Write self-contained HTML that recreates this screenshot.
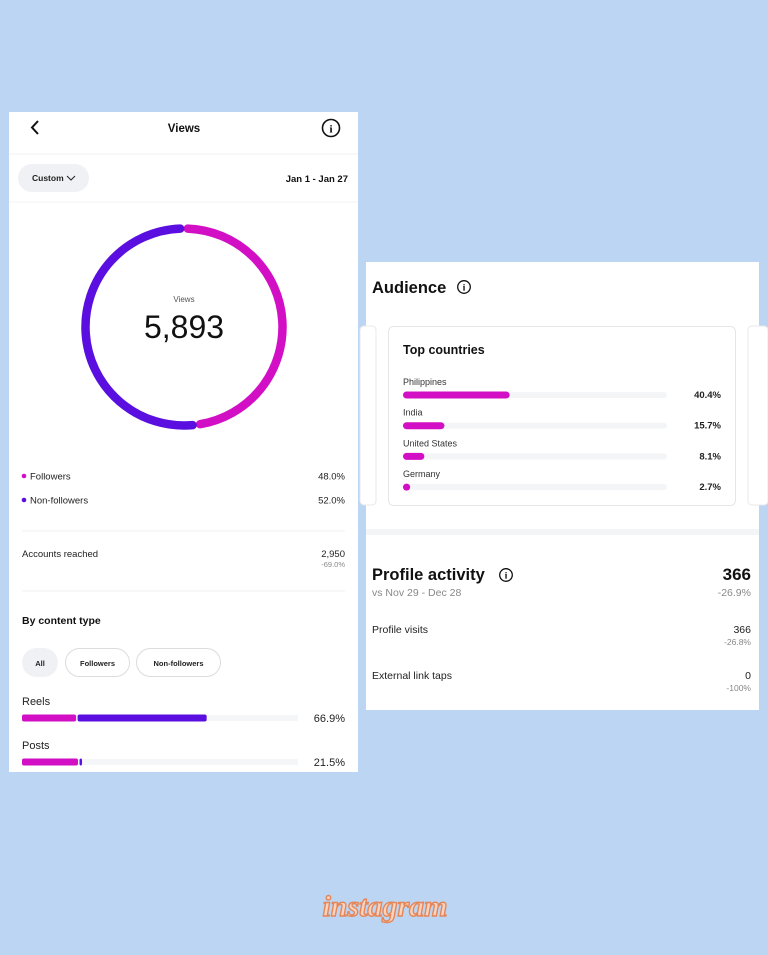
<!DOCTYPE html>
<html><head><meta charset="utf-8"><style>
html,body{margin:0;padding:0;background:#bcd5f2;}
svg{display:block;font-family:"Liberation Sans",Arial,sans-serif;}
</style></head><body>
<svg id="s" width="768" height="955" viewBox="0 0 768 955">
<rect width="768" height="955" fill="#bcd5f2"/>
<g>
<rect x="9" y="112" width="349" height="660" fill="#fff"/>
<path d="M38 121 L32 127.5 L38 134" stroke="#111" stroke-width="2" fill="none"/>
<text x="184" y="132" text-anchor="middle" font-size="11.5" font-weight="bold" fill="#111">Views</text>
<g><circle cx="331" cy="128" r="8.5" stroke="#111" stroke-width="1.6" fill="none"/><text x="331" y="132.5" text-anchor="middle" font-size="11" font-weight="bold" font-family="Liberation Serif,serif">i</text></g>
<line x1="9" y1="154" x2="358" y2="154" stroke="#f0f0f0"/>
<g><rect x="18" y="164" width="71" height="28" rx="14" fill="#eff1f4"/><text x="32" y="181" font-size="8.5" font-weight="bold" fill="#222">Custom</text><path d="M67 176 L71 180 L75 176" stroke="#222" fill="none"/></g>
<text x="348" y="182" text-anchor="end" font-size="9.5" font-weight="bold" fill="#111">Jan 1 - Jan 27</text>
<line x1="9" y1="202" x2="358" y2="202" stroke="#f3f3f3"/>
<g id="donut"></g>
<text x="184" y="302" text-anchor="middle" font-size="8" fill="#555">Views</text>
<text x="184" y="338" text-anchor="middle" font-size="32" fill="#111">5,893</text>
<circle cx="24" cy="476" r="2.3" fill="#d20fc4"/><text x="30" y="479.5" font-size="9.5" fill="#222">Followers</text>
<text x="345" y="479.5" text-anchor="end" font-size="9.5" fill="#222">48.0%</text>
<circle cx="24" cy="500" r="2.3" fill="#5a0fe0"/><text x="30" y="503.5" font-size="9.5" fill="#222">Non-followers</text>
<text x="345" y="503.5" text-anchor="end" font-size="9.5" fill="#222">52.0%</text>
<line x1="22" y1="531" x2="345" y2="531" stroke="#f0f0f0"/>
<text x="22" y="557" font-size="9.5" fill="#222">Accounts reached</text>
<text x="345" y="557" text-anchor="end" font-size="9.5" fill="#222">2,950</text>
<text x="345" y="567" text-anchor="end" font-size="7.5" fill="#888">-69.0%</text>
<line x1="22" y1="591" x2="345" y2="591" stroke="#f0f0f0"/>
<text x="22" y="624" font-size="10.5" font-weight="bold" fill="#111">By content type</text>
<g><rect x="22" y="648" width="36" height="29" rx="14.5" fill="#eff1f4"/><text x="40" y="666" text-anchor="middle" font-size="7.5" font-weight="bold" fill="#222">All</text></g>
<g><rect x="65.5" y="648.5" width="64" height="28" rx="14" fill="#fff" stroke="#dcdcdc"/><text x="97.5" y="666" text-anchor="middle" font-size="7.5" font-weight="bold" fill="#222">Followers</text></g>
<g><rect x="136.5" y="648.5" width="84" height="28" rx="14" fill="#fff" stroke="#dcdcdc"/><text x="178.5" y="666" text-anchor="middle" font-size="7.5" font-weight="bold" fill="#222">Non-followers</text></g>
<g id="content"></g>
</g>
<g>
<rect x="366" y="262" width="393" height="448" fill="#fff"/>
<text x="372" y="293" font-size="16.5" font-weight="bold" fill="#111">Audience</text>
<g><circle cx="464" cy="287" r="6.3" stroke="#111" stroke-width="1.3" fill="none"/><text x="464" y="290.5" text-anchor="middle" font-size="9" font-weight="bold" font-family="Liberation Serif,serif">i</text></g>
<rect x="360" y="326" width="16" height="179" rx="4" fill="#fff" stroke="#e8e8e8"/>
<rect x="748" y="326" width="20" height="179" rx="4" fill="#fff" stroke="#e8e8e8"/>
<rect x="388.5" y="326.5" width="347" height="179" rx="5" fill="#fff" stroke="#e6e6e6"/>
<text x="403" y="354" font-size="12.5" font-weight="bold" fill="#111">Top countries</text>
<g id="countries"></g>
<rect x="366" y="529" width="393" height="6" fill="#f3f5f7"/>
<text x="372" y="580" font-size="16.5" font-weight="bold" fill="#111">Profile activity</text>
<g><circle cx="506" cy="575" r="6.3" stroke="#111" stroke-width="1.3" fill="none"/><text x="506" y="578.5" text-anchor="middle" font-size="9" font-weight="bold" font-family="Liberation Serif,serif">i</text></g>
<text x="372" y="596" font-size="10.5" fill="#888">vs Nov 29 - Dec 28</text>
<text x="751" y="580" text-anchor="end" font-size="17" font-weight="bold" fill="#111">366</text>
<text x="751" y="596" text-anchor="end" font-size="10.5" fill="#888">-26.9%</text>
<text x="372" y="633" font-size="10.5" fill="#222">Profile visits</text>
<text x="751" y="633" text-anchor="end" font-size="10.5" fill="#222">366</text>
<text x="751" y="645" text-anchor="end" font-size="8.5" fill="#888">-26.8%</text>
<text x="372" y="679" font-size="10.5" fill="#222">External link taps</text>
<text x="751" y="679" text-anchor="end" font-size="10.5" fill="#222">0</text>
<text x="751" y="691" text-anchor="end" font-size="8.5" fill="#888">-100%</text>
</g>
<text x="385" y="916" text-anchor="middle" font-size="30" font-style="italic" font-weight="bold" font-family="Liberation Serif,serif" fill="#fdd3bd" stroke="#e3875a" stroke-width="1.4">instagram</text>
</svg>
<script>
const donutLabels = ["Followers", "Non-followers"];
const donutValues = [48.0, 52.0];
const donutColors = ["#d20fc4", "#5a0fe0"];
const countryNames = ["Philippines", "India", "United States", "Germany"];
const countryValues = [40.4, 15.7, 8.1, 2.7];
const contentTypes = ["Reels", "Posts"];
const contentFollowers = [19.6, 20.3];
const contentNonFollowers = [47.3, 1.2];
const contentTotals = ["66.9%", "21.5%"];
const NS = "http://www.w3.org/2000/svg";
function mk(tag, attrs, parent){const e=document.createElementNS(NS,tag);for(const k in attrs)e.setAttribute(k,attrs[k]);parent.appendChild(e);return e;}
const cx=184, cy=327, r=98.5;
const sum=donutValues.reduce((a,b)=>a+b,0);
function pt(a){const t=(a-90)*Math.PI/180;return [cx+r*Math.cos(t), cy+r*Math.sin(t)];}
let acc=0; const dg=document.getElementById("donut");
donutValues.forEach((v,i)=>{
  const a0=acc/sum*360+2.2, a1=(acc+v)/sum*360-2.2; acc+=v;
  const p0=pt(a0), p1=pt(a1), large=(a1-a0)>180?1:0;
  const p=mk("path",{d:`M${p0[0]} ${p0[1]} A${r} ${r} 0 ${large} 1 ${p1[0]} ${p1[1]}`,stroke:donutColors[i],"stroke-width":8.5,fill:"none","stroke-linecap":"round"},dg);
  
  
});
const cg=document.getElementById("countries");
const trackX=403, trackW=264;
function xs(v){return v/100*trackW;}
countryNames.forEach((n,i)=>{
  const y=395+i*30.7;
  const t=mk("text",{x:403,y:y-10,"font-size":9,fill:"#333"},cg); t.textContent=n;
  mk("rect",{x:trackX,y:y-3,width:trackW,height:6,rx:3,fill:"#f4f5f7"},cg);
  const b=mk("rect",{x:trackX,y:y-3.5,width:Math.max(xs(countryValues[i]),6),height:7,rx:3.5,fill:"#d20fc4"},cg);
  
  
  const lt=mk("text",{x:721,y:y+3,"text-anchor":"end","font-size":9.5,"font-weight":"bold",fill:"#222"},cg); lt.textContent=countryValues[i].toFixed(1)+"%";
});
const kg=document.getElementById("content");
const kx=22, kw=276;
function ks(v){return v/100*kw;}
contentTypes.forEach((n,i)=>{
  const y=718+i*44;
  const t=mk("text",{x:22,y:y-13,"font-size":11,fill:"#222"},kg); t.textContent=n;
  mk("rect",{x:kx,y:y-3,width:kw,height:6,fill:"#f5f6f8"},kg);
  const w1=ks(contentFollowers[i]), w2=ks(contentNonFollowers[i]);
  const b1=mk("rect",{x:kx,y:y-3.5,width:w1,height:7,rx:2,fill:"#d20fc4"},kg);
  
  
  const b2=mk("rect",{x:kx+w1+1.5,y:y-3.5,width:Math.max(w2-1.5,2.5),height:7,rx:2,fill:"#5a0fe0"},kg);
  
  
  const lt=mk("text",{x:345,y:y+4,"text-anchor":"end","font-size":11,fill:"#222"},kg); lt.textContent=contentTotals[i];
});
</script>
</body></html>
